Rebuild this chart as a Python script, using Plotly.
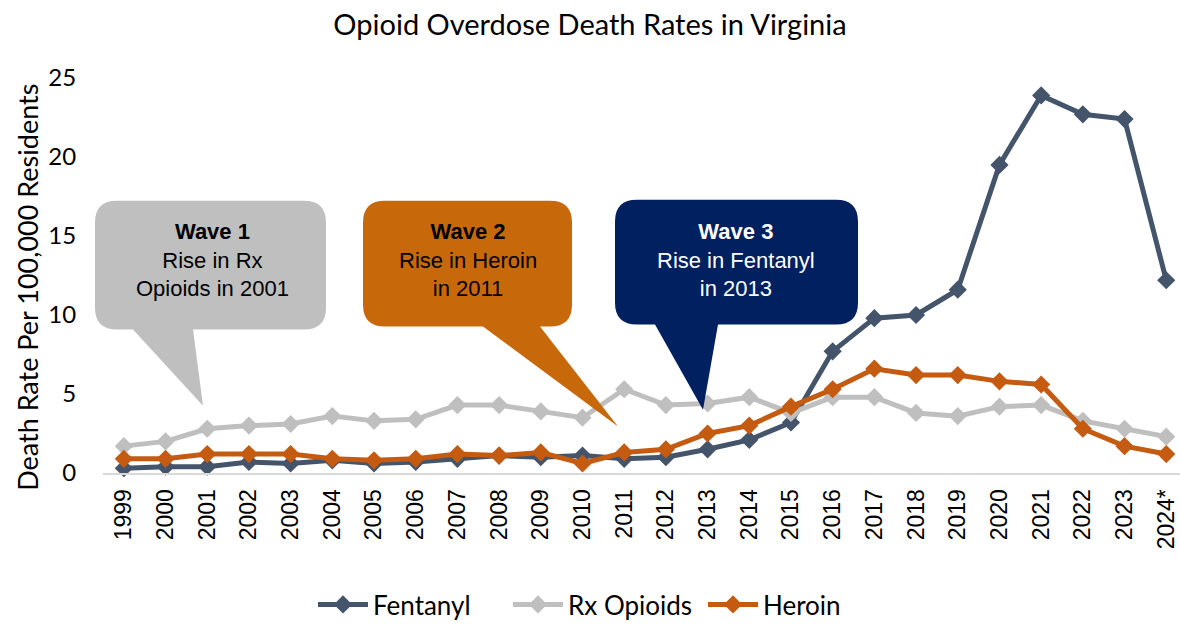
import plotly.graph_objects as go

years = ["1999", "2000", "2001", "2002", "2003", "2004", "2005", "2006", "2007", "2008",
         "2009", "2010", "2011", "2012", "2013", "2014", "2015", "2016", "2017", "2018",
         "2019", "2020", "2021", "2022", "2023", "2024*"]
fentanyl = [0.3, 0.4, 0.4, 0.7, 0.6, 0.8, 0.6, 0.7, 0.9, 1.1,
            1.0, 1.1, 0.9, 1.0, 1.5, 2.1, 3.2, 7.7, 9.8, 10.0,
            11.6, 19.5, 23.9, 22.7, 22.4, 12.2]
rx_opioids = [1.7, 2.0, 2.8, 3.0, 3.1, 3.6, 3.3, 3.4, 4.3, 4.3,
              3.9, 3.5, 5.3, 4.3, 4.4, 4.8, 3.8, 4.8, 4.8, 3.8,
              3.6, 4.2, 4.3, 3.3, 2.8, 2.3]
heroin = [0.9, 0.9, 1.2, 1.2, 1.2, 0.9, 0.8, 0.9, 1.2, 1.1,
          1.3, 0.6, 1.3, 1.5, 2.5, 3.0, 4.2, 5.3, 6.6, 6.2,
          6.2, 5.8, 5.6, 2.8, 1.7, 1.2]

series = [("Fentanyl", fentanyl, "#44546A"),
          ("Rx Opioids", rx_opioids, "#BFBFBF"),
          ("Heroin", heroin, "#C55A11")]

# figure geometry (pixels)
W, H = 1180, 628
L, R, T, B = 103, 0, 78, 151
PW = W - L - R
PH = H - T - B
def px(x):
    return (x - L) / PW
def py(y):
    return (H - B - y) / PH

fig = go.Figure()
for name, vals, col in series:
    fig.add_trace(go.Scatter(
        x=years, y=vals, name=name, mode="lines+markers",
        line=dict(color=col, width=5),
        marker=dict(symbol="diamond", size=14, color=col),
        cliponaxis=False,
    ))

def callout(x0, y0, x1, y1, bl, br, tipx, tipy, r=22):
    pts = [
        ("M", px(x0 + r), py(y0)),
        ("L", px(x1 - r), py(y0)),
        ("Q", px(x1), py(y0), px(x1), py(y0 + r)),
        ("L", px(x1), py(y1 - r)),
        ("Q", px(x1), py(y1), px(x1 - r), py(y1)),
        ("L", px(br), py(y1)),
        ("L", px(tipx), py(tipy)),
        ("L", px(bl), py(y1)),
        ("L", px(x0 + r), py(y1)),
        ("Q", px(x0), py(y1), px(x0), py(y1 - r)),
        ("L", px(x0), py(y0 + r)),
        ("Q", px(x0), py(y0), px(x0 + r), py(y0)),
    ]
    s = ""
    for p in pts:
        cmd = p[0]
        coords = p[1:]
        s += cmd + " " + " ".join(
            f"{coords[i]:.5f},{coords[i+1]:.5f}" for i in range(0, len(coords), 2)) + " "
    return s + "Z"

boxes = [
    dict(geom=(95, 202, 326, 332, 133, 193, 203, 409), color="#BFBFBF", tc="#000000",
         text="<b>Wave 1</b><br>Rise in Rx<br>Opioids in 2001", cx=212),
    dict(geom=(363, 202, 572, 329, 483, 540, 618, 430), color="#C7690B", tc="#000000",
         text="<b>Wave 2</b><br>Rise in Heroin<br>in 2011", cx=468),
    dict(geom=(615, 201, 858, 327, 655, 718, 703, 413), color="#002060", tc="#FFFFFF",
         text="<b>Wave 3</b><br>Rise in Fentanyl<br>in 2013", cx=736),
]
shapes = []
annotations = []
for b in boxes:
    shapes.append(dict(type="path", xref="paper", yref="paper",
                       path=callout(*b["geom"]), fillcolor=b["color"],
                       line=dict(width=0), layer="above"))
    annotations.append(dict(xref="paper", yref="paper", x=px(b["cx"]), y=py(261.5),
                            xanchor="center", yanchor="middle", showarrow=False,
                            text=b["text"], align="center",
                            font=dict(family="Liberation Sans, Arial", size=22, color=b["tc"])))

# y-axis title as a rotated annotation (centred like the reference)
annotations.append(dict(xref="paper", yref="paper", x=px(28), y=py(290),
                        xanchor="center", yanchor="middle", showarrow=False,
                        text="Death Rate Per 100,000 Residents", textangle=-90,
                        font=dict(size=27, color="#000000")))

fig.update_layout(
    width=W, height=H,
    margin=dict(l=L, r=R, t=T, b=B),
    paper_bgcolor="white", plot_bgcolor="white",
    font=dict(family="Lato, Open Sans, sans-serif", color="#000000"),
    title=dict(text="Opioid Overdose Death Rates in Virginia", x=0.5, xanchor="center",
               y=1 - 25 / H, yanchor="middle", font=dict(size=29, color="#000000")),
    xaxis=dict(type="category", range=[-0.5, 25.33], showgrid=False,
               showline=True, linecolor="#D9D9D9", linewidth=2, ticks="",
               tickangle=-90, tickfont=dict(family="Liberation Sans, Arial", size=23),
               ticklabelstandoff=5, zeroline=False),
    yaxis=dict(range=[0, 25], dtick=5, showgrid=False, zeroline=False, showline=False,
               tickfont=dict(size=24), ticks="outside", ticklen=18, ticksuffix="\u2009",
               tickcolor="rgba(0,0,0,0)"),
    legend=dict(orientation="h", x=px(313), xanchor="left", y=py(610), yanchor="middle",
                font=dict(size=26), itemwidth=50, entrywidth=130, entrywidthmode="pixels",
                tracegroupgap=0),
    shapes=shapes,
    annotations=annotations,
    showlegend=True,
)

fig.write_html("out.html", config={"displayModeBar": False},
               post_script="document.body.style.margin='0';")
